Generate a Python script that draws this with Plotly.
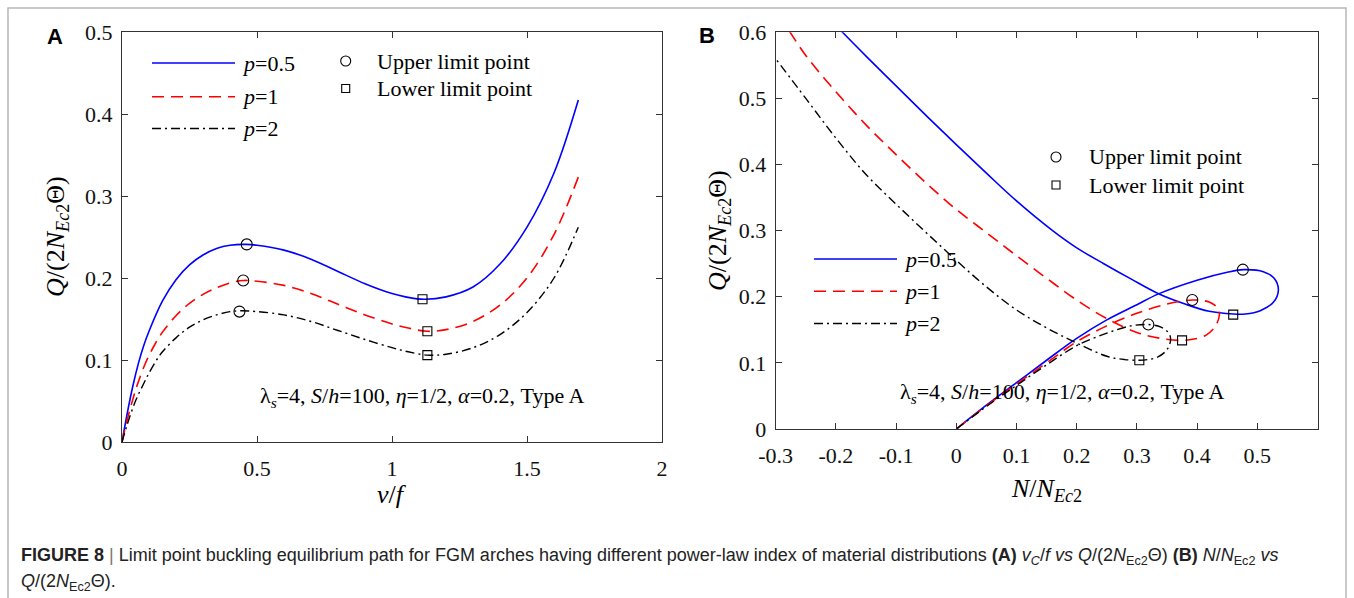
import plotly.graph_objects as go

W, H = 1354, 598

# ---------------- Panel A data: v/f vs Q/(2N_Ec2 Θ) ----------------
vA_blue = [0, 0.02, 0.04, 0.06, 0.08, 0.1, 0.15, 0.2, 0.25, 0.3, 0.35, 0.4, 0.46, 0.5, 0.6, 0.7, 0.8, 0.9, 1.0, 1.05, 1.12, 1.2, 1.3, 1.4, 1.5, 1.6, 1.69]
qA_blue = [0, 0.036, 0.068, 0.095, 0.117, 0.135, 0.172, 0.198, 0.216, 0.228, 0.236, 0.240, 0.241, 0.240, 0.234, 0.223, 0.208, 0.193, 0.181, 0.177, 0.174, 0.177, 0.189, 0.217, 0.262, 0.328, 0.417]
vA_red = [0, 0.02, 0.04, 0.06, 0.088, 0.12, 0.15, 0.2, 0.25, 0.3, 0.35, 0.4, 0.45, 0.5, 0.6, 0.7, 0.8, 0.9, 1.0, 1.06, 1.13, 1.2, 1.3, 1.4, 1.5, 1.6, 1.69]
qA_red = [0, 0.028, 0.052, 0.073, 0.097, 0.118, 0.134, 0.154, 0.169, 0.18, 0.188, 0.194, 0.197, 0.196, 0.191, 0.181, 0.168, 0.155, 0.144, 0.139, 0.135, 0.137, 0.147, 0.167, 0.2, 0.253, 0.323]
vA_black = [0, 0.02, 0.05, 0.08, 0.1, 0.128, 0.15, 0.2, 0.25, 0.3, 0.35, 0.4, 0.44, 0.5, 0.6, 0.7, 0.8, 0.9, 1.0, 1.06, 1.13, 1.2, 1.3, 1.4, 1.5, 1.6, 1.69]
qA_black = [0, 0.022, 0.05, 0.071, 0.084, 0.1, 0.11, 0.127, 0.14, 0.149, 0.155, 0.159, 0.16, 0.159, 0.155, 0.147, 0.136, 0.125, 0.115, 0.11, 0.106, 0.107, 0.115, 0.131, 0.158, 0.2, 0.262]
vA_upper = [0.462, 0.449, 0.435]
qA_upper = [0.241, 0.197, 0.159]
vA_lower = [1.113, 1.131, 1.131]
qA_lower = [0.174, 0.135, 0.106]

# ---------------- Panel B data: N/N_Ec2 vs Q/(2N_Ec2 Θ) ----------------
nB_blue = [0, 0.05, 0.1, 0.15, 0.2, 0.25, 0.3, 0.335, 0.4, 0.45, 0.477, 0.51, 0.528, 0.535, 0.527, 0.505, 0.48, 0.46,
           0.42, 0.38, 0.335, 0.29, 0.245, 0.2, 0.16, 0.1, 0.05, 0, -0.05, -0.1, -0.15, -0.189, -0.21]
qB_blue = [0, 0.036, 0.07, 0.104, 0.137, 0.165, 0.188, 0.204, 0.225, 0.237, 0.241, 0.238, 0.228, 0.21, 0.192, 0.179, 0.174, 0.174,
           0.178, 0.189, 0.205, 0.227, 0.25, 0.274, 0.3, 0.345, 0.387, 0.43, 0.474, 0.519, 0.564, 0.6, 0.62]
nB_red = [0, 0.05, 0.1, 0.15, 0.2, 0.25, 0.3, 0.35, 0.392, 0.42, 0.435, 0.437, 0.43, 0.415, 0.395, 0.375,
          0.34, 0.3, 0.25, 0.2, 0.15, 0.1, 0.05, 0, -0.05, -0.1, -0.15, -0.2, -0.25, -0.276, -0.29]
qB_red = [0, 0.035, 0.068, 0.1, 0.132, 0.156, 0.175, 0.189, 0.195, 0.192, 0.182, 0.172, 0.155, 0.142, 0.136, 0.134,
          0.137, 0.146, 0.167, 0.195, 0.228, 0.262, 0.297, 0.332, 0.372, 0.415, 0.46, 0.51, 0.565, 0.6, 0.62]
nB_black = [0, 0.05, 0.1, 0.15, 0.2, 0.25, 0.29, 0.319, 0.34, 0.353, 0.356, 0.35, 0.335, 0.318, 0.304,
            0.28, 0.25, 0.2, 0.15, 0.1, 0.05, 0, -0.05, -0.1, -0.15, -0.2, -0.25, -0.3]
qB_black = [0, 0.034, 0.066, 0.097, 0.126, 0.145, 0.156, 0.158, 0.154, 0.145, 0.135, 0.12, 0.109, 0.105, 0.104,
            0.105, 0.11, 0.13, 0.153, 0.18, 0.215, 0.255, 0.297, 0.34, 0.385, 0.44, 0.5, 0.56]
nB_upper = [0.476, 0.392, 0.319]
qB_upper = [0.241, 0.195, 0.158]
nB_lower = [0.46, 0.375, 0.304]
qB_lower = [0.173, 0.134, 0.104]

xA_ticks = [0, 0.5, 1, 1.5, 2]
xA_text = ["0", "0.5", "1", "1.5", "2"]
yA_ticks = [0, 0.1, 0.2, 0.3, 0.4, 0.5]
yA_text = ["0", "0.1", "0.2", "0.3", "0.4", "0.5"]
xB_ticks = [-0.3, -0.2, -0.1, 0, 0.1, 0.2, 0.3, 0.4, 0.5]
xB_text = ["-0.3", "-0.2", "-0.1", "0", "0.1", "0.2", "0.3", "0.4", "0.5"]
yB_ticks = [0, 0.1, 0.2, 0.3, 0.4, 0.5, 0.6]
yB_text = ["0", "0.1", "0.2", "0.3", "0.4", "0.5", "0.6"]

series_names = ["p=0.5", "p=1", "p=2"]

SERIF = "Liberation Serif, Times New Roman, serif"
SANS = "Liberation Sans, Arial, sans-serif"
BLUE, RED, BLACK = "#0000ff", "#ff0000", "#000000"
styles = [dict(color=BLUE, width=1.6, dash="solid"),
          dict(color=RED, width=1.6, dash="12px,7px"),
          dict(color=BLACK, width=1.4, dash="9px,4px,2px,4px")]

fig = go.Figure()

for (xs, ys), st, nm in zip([(vA_blue, qA_blue), (vA_red, qA_red), (vA_black, qA_black)], styles, series_names):
    fig.add_trace(go.Scatter(x=xs, y=ys, mode="lines", line=dict(shape="spline", smoothing=1.0, **st),
                             name=nm, showlegend=False, xaxis="x", yaxis="y"))
for (xs, ys), st, nm in zip([(nB_blue, qB_blue), (nB_red, qB_red), (nB_black, qB_black)], styles, series_names):
    fig.add_trace(go.Scatter(x=xs, y=ys, mode="lines", line=dict(shape="spline", smoothing=1.0, **st),
                             name=nm, showlegend=False, xaxis="x2", yaxis="y2"))

circ = dict(symbol="circle-open", size=11, color=BLACK, line=dict(width=1.1, color=BLACK))
sq = dict(symbol="square-open", size=9, color=BLACK, line=dict(width=1.1, color=BLACK))
fig.add_trace(go.Scatter(x=vA_upper, y=qA_upper, mode="markers", marker=circ, showlegend=False, xaxis="x", yaxis="y"))
fig.add_trace(go.Scatter(x=vA_lower, y=qA_lower, mode="markers", marker=sq, showlegend=False, xaxis="x", yaxis="y"))
fig.add_trace(go.Scatter(x=nB_upper, y=qB_upper, mode="markers", marker=circ, showlegend=False, xaxis="x2", yaxis="y2"))
fig.add_trace(go.Scatter(x=nB_lower, y=qB_lower, mode="markers", marker=sq, showlegend=False, xaxis="x2", yaxis="y2"))

def px(x):
    return x / W

def py(y):
    return 1 - y / H

axis_common = dict(showline=True, linecolor="#333", linewidth=1, mirror="ticks", ticks="inside",
                   ticklen=6, tickcolor="#333", showgrid=False, zeroline=False,
                   tickfont=dict(family=SERIF, size=22, color="#111"))

fig.update_layout(
    width=W, height=H, margin=dict(l=0, r=0, t=0, b=0),
    paper_bgcolor="white", plot_bgcolor="rgba(0,0,0,0)", showlegend=False,
    xaxis=dict(domain=[px(122), px(662)], range=[0, 2], tickvals=xA_ticks, ticktext=xA_text,
               anchor="y", automargin=False, ticklabelstandoff=7, **axis_common),
    yaxis=dict(domain=[py(442), py(32)], range=[0, 0.5], tickvals=yA_ticks, ticktext=yA_text,
               anchor="x", automargin=False, ticklabelstandoff=4, **axis_common),
    xaxis2=dict(domain=[px(775.7), px(1317.5)], range=[-0.3, 0.6], tickvals=xB_ticks, ticktext=xB_text,
                anchor="y2", automargin=False, ticklabelstandoff=7, **axis_common),
    yaxis2=dict(domain=[py(429), py(32.3)], range=[0, 0.6], tickvals=yB_ticks, ticktext=yB_text,
                anchor="x2", automargin=False, ticklabelstandoff=4, **axis_common),
    xaxis3=dict(domain=[0, 1], range=[0, 1], visible=False, anchor="y3", fixedrange=True),
    yaxis3=dict(domain=[0, 1], range=[0, 1], visible=False, anchor="x3", fixedrange=True),
)

shapes = []
# outer frame
shapes.append(dict(type="rect", xref="paper", yref="paper", x0=px(8), x1=px(1346), y0=py(605), y1=py(8),
                   line=dict(color="#b8b8b8", width=1.5), fillcolor="rgba(0,0,0,0)", layer="below"))

annotations = []

def txt(x, y, s, size=22, family=SERIF, xanchor="left", yanchor="middle", angle=0, color="#000"):
    annotations.append(dict(x=px(x), y=py(y), xref="paper", yref="paper", text=s, showarrow=False,
                            xanchor=xanchor, yanchor=yanchor, textangle=angle,
                            font=dict(family=family, size=size, color=color)))

def legend_block(x0, x1, ys, xt):
    for st, y, nm in zip(styles, ys, series_names):
        shapes.append(dict(type="line", xref="paper", yref="paper", x0=px(x0), x1=px(x1), y0=py(y), y1=py(y),
                           line=dict(color=st["color"], width=st["width"], dash=st["dash"])))
        p, val = nm.split("=")
        txt(xt, y, "<i>%s</i>=%s" % (p, val))

# Panel A legend
legend_block(152, 235, [63, 96.7, 128.5], 240)
# Panel B legend
legend_block(814, 897, [259, 291.2, 323.5], 902)

# limit point key
def key(xc, yc_up, yc_lo, xt):
    fig.add_trace(go.Scatter(x=[px(xc)], y=[py(yc_up)], mode="markers",
                             marker=dict(symbol="circle-open", size=10, color=BLACK, line=dict(width=1.1)),
                             xaxis="x3", yaxis="y3", showlegend=False, cliponaxis=False, hoverinfo="skip"))
    fig.add_trace(go.Scatter(x=[px(xc)], y=[py(yc_lo)], mode="markers",
                             marker=dict(symbol="square-open", size=8, color=BLACK, line=dict(width=1.1)),
                             xaxis="x3", yaxis="y3", showlegend=False, cliponaxis=False, hoverinfo="skip"))
    txt(xt, yc_up, "Upper limit point")
    txt(xt, yc_lo, "Lower limit point")

key(345.7, 61, 88.5, 375)
key(1056, 157, 185, 1087)

# parameter notes
note = "λ<sub><i>s</i></sub>=4, <i>S</i>/<i>h</i>=100, <i>η</i>=1/2, <i>α</i>=0.2, Type A"
txt(258, 397, note)
txt(898, 393, note)

# axis titles
ytitle = "<i>Q</i>/(2<i>N</i><sub><i>Ec</i>2</sub>Θ)"
txt(57, 237, ytitle, size=26, xanchor="center", angle=-90)
txt(719, 230, ytitle, size=26, xanchor="center", angle=-90)
txt(392, 494, "<i>v</i>/<i>f</i>", size=26, xanchor="center")
txt(1046, 490, "<i>N</i>/<i>N</i><sub><i>Ec</i>2</sub>", size=26, xanchor="center")

# panel letters
txt(55, 37, "<b>A</b>", size=22, family=SANS, xanchor="center")
txt(707, 36, "<b>B</b>", size=22, family=SANS, xanchor="center")

# caption
CAP = "Liberation Sans, Arial, sans-serif"
cap1 = ("<b>FIGURE 8</b> <span style='color:#777'>|</span> Limit point buckling equilibrium path for FGM arches having different "
        "power-law index of material distributions <b>(A)</b> <i>v</i><sub><i>C</i></sub>/<i>f vs Q</i>/(2<i>N</i><sub>Ec2</sub>Θ) "
        "<b>(B)</b> <i>N</i>/<i>N</i><sub>Ec2</sub> <i>vs</i>")
cap2 = "<i>Q</i>/(2<i>N</i><sub>Ec2</sub>Θ)."
txt(19, 556, cap1, size=18, family=CAP, color="#222")
txt(19, 582, cap2, size=18, family=CAP, color="#222")

fig.update_layout(shapes=shapes, annotations=annotations)
fig.write_html("out.html")
